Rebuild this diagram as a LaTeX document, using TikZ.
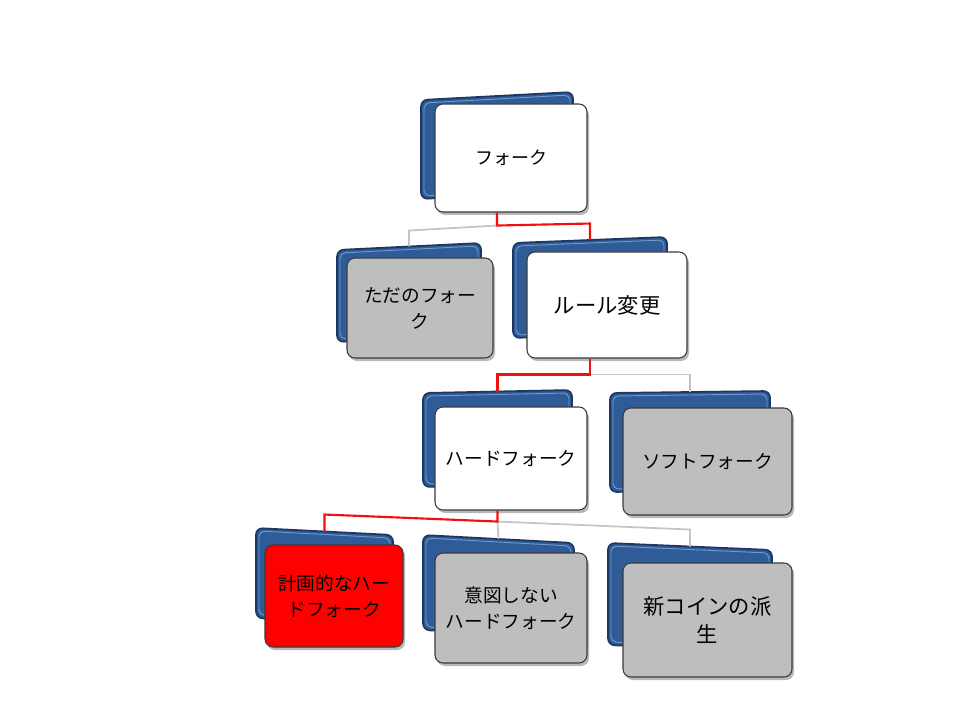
\documentclass[tikz,border=0pt]{standalone}
\usepackage{fontspec}
\newfontfamily\jp{Noto Sans CJK JP}
\usetikzlibrary{calc}
\definecolor{navy}{HTML}{1C3762}
\definecolor{bluefill}{HTML}{2F5C97}
\definecolor{bluehi}{HTML}{6F98CE}
\definecolor{boxline}{HTML}{3A3A3A}
\definecolor{boxgray}{HTML}{BEBEBE}
\definecolor{linkgray}{HTML}{C4C4C4}
\definecolor{linkred}{HTML}{F01010}
\tikzset{
  back/.style={fill=bluefill, draw=navy, line width=1.3pt, rounded corners=5pt},
  backhi/.style={draw=bluehi, line width=0.7pt, rounded corners=4pt},
  front/.style={draw=boxline, line width=0.8pt, rounded corners=6pt, inner sep=2pt,
    align=center, font=\jp\fontsize{14}{19.5}\selectfont},
  boxshadow/.style={fill=black, opacity=0.28, rounded corners=6pt},
  whitebox/.style={front, fill=white},
  graybox/.style={front, fill=boxgray},
  redbox/.style={front, fill=red},
  bigtext/.style={font=\jp\fontsize{16}{21}\selectfont},
  smalltext/.style={font=\jp\fontsize{13.5}{19}\selectfont},
  redlink/.style={draw=linkred, line width=1.6pt},
  graylink/.style={draw=linkgray, line width=1.3pt},
}
\newcommand\backbox[6]{%
  \filldraw[back] (#2,#3) -- (#4,#5) -- (#4,{#6-(#3-#5)}) -- (#2,#6) -- cycle;
  \draw[backhi] ({#2+3},{#3+3}) -- ({#4-3},{#5+3}) -- ({#4-3},{#6-(#3-#5)-3}) -- ({#2+3},{#6-3}) -- cycle;
  \coordinate (#1-top) at ({(#2+#4)/2},{(#3+#5)/2});
}
\newcommand\frontbox[7]{%
  \fill[boxshadow] ({#2+2},{#3+3}) rectangle ({#4+2},{#5+3});
  \node[#6, minimum width={(#4-#2)*0.75pt}, minimum height={(#5-#3)*0.75pt}] (#1)
    at ({(#2+#4)/2},{(#3+#5)/2}) {#7};
}
\begin{document}
\begin{tikzpicture}[x=0.75pt, y=-0.75pt]
\useasboundingbox[fill=white] (0,0) rectangle (960,720);

% boxes
\backbox{fork}{421}{100}{573}{92}{199}
\frontbox{fork}{435}{104}{587}{212}{whitebox, smalltext}{フォーク}

\backbox{tada}{337}{250}{481}{243}{342}
\frontbox{tada}{347}{258}{493}{358}{graybox}{ただのフォー\\ク}

\backbox{rule}{513}{243}{667}{237}{338}
\frontbox{rule}{527}{252}{687}{358}{whitebox, bigtext}{ルール変更}

\backbox{hard}{423}{393}{572}{390}{487}
\frontbox{hard}{435}{407}{587}{510}{whitebox}{ハードフォーク}

\backbox{soft}{610}{393}{770}{391}{492}
\frontbox{soft}{623}{408}{792}{515}{graybox}{ソフトフォーク}

\backbox{keik}{256}{528}{393}{535}{618}
\frontbox{keik}{265}{545}{403}{647}{redbox}{計画的なハー\\ドフォーク}

\backbox{itos}{423}{535}{574}{543}{630}
\frontbox{itos}{435}{553}{587}{663}{graybox}{意図しない\\ハードフォーク}

\backbox{shin}{608}{543}{772}{550}{645}
\frontbox{shin}{623}{563}{792}{677}{graybox, bigtext}{新コインの派\\生}

% connectors
\coordinate (j1) at ($(fork-top |- fork.south)+(0,13)$);
\coordinate (j2) at ($(rule-top |- rule.south)+(0,16)$);
\coordinate (j3) at ($(hard-top |- hard.south)+(0,11)$);

\draw[graylink] (j1) -- ($(j1 -| tada-top)+(0,5)$) -- (tada-top);
\draw[redlink] (fork-top |- fork.south) -- (j1) -- ($(j1 -| rule-top)+(0,-2)$) -- (rule-top);

\draw[graylink] (j2) -- (j2 -| soft-top) -- (soft-top);
\draw[redlink] (rule-top |- rule.south) -- (j2) -- (j2 -| hard-top) -- (hard-top);

\draw[graylink] (j3) -- (itos-top);
\draw[graylink] (j3) -- ($(j3 -| shin-top)+(0,8)$) -- (shin-top);
\draw[redlink] (hard-top |- hard.south) -- (j3) -- ($(j3 -| keik-top)+(0,-7)$) -- (keik-top);
\end{tikzpicture}
\end{document}
